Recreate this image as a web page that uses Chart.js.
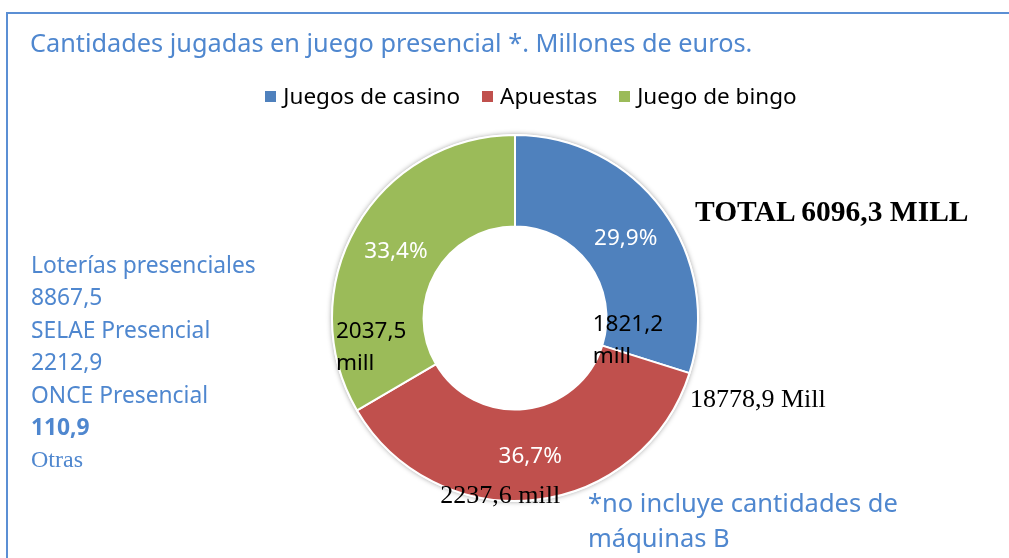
<!DOCTYPE html>
<html>
<head>
<meta charset="utf-8">
<script src="https://cdn.jsdelivr.net/npm/chart.js@4.4.1/dist/chart.umd.min.js"></script>
<style>
  html, body { margin:0; overflow:hidden; }
  body { width:1009px; height:558px; background:#fff; position:relative; font-family:'Noto Sans', sans-serif; }
  #frame { position:absolute; left:6px; top:12px; width:1003px; height:546px; border-top:2px solid #5b8fd4; border-left:2px solid #5b8fd4; box-sizing:border-box; }
  canvas { position:absolute; left:0; top:0; }
  .t { position:absolute; white-space:nowrap; }
  .blue { color:#4f87cf; }
  .serif { font-family:'Liberation Serif', 'DejaVu Serif', serif; color:#000; }
  #legend { position:absolute; top:80px; left:0; width:1062px; text-align:center; font-size:22.5px; color:#000; }
  #legend span.item { margin:0 11px; }
  #legend span.box { display:inline-block; width:11px; height:11px; margin-right:7px; vertical-align:2px; }
</style>
</head>
<body>
<div id="frame"></div>
<canvas id="donut" width="1009" height="558"></canvas>
<div class="t blue" style="left:30px;top:25px;font-size:25.3px;">Cantidades jugadas en juego presencial *. Millones de euros.</div>
<div id="legend"></div>
<div id="side" class="t blue" style="left:31px;top:249px;font-size:22.8px;line-height:32.4px;"></div>
<div class="t serif" style="left:695px;top:195px;font-size:29.5px;font-weight:bold;">TOTAL 6096,3 MILL</div>
<div class="t serif" style="left:690px;top:384px;font-size:26px;">18778,9 Mill</div>
<div class="t blue" style="left:588px;top:485px;font-size:25.5px;line-height:35px;">*no incluye cantidades de<br>máquinas B</div>

<script>
// ── data ────────────────────────────────────────────────
const categories    = ['Juegos de casino', 'Apuestas', 'Juego de bingo'];
const amounts       = [1821.2, 2237.6, 2037.5];
const percentLabels = ['29,9%', '36,7%', '33,4%'];
const amountLabels  = [['1821,2', 'mill'], ['2237,6 mill'], ['2037,5', 'mill']];
const colors        = ['#4F81BD', '#C0504D', '#9BBB59'];
const sideNotes     = ['Loterías presenciales', '8867,5', 'SELAE Presencial', '2212,9', 'ONCE Presencial', '110,9', 'Otras'];

// ── legend ──────────────────────────────────────────────
var legend = document.getElementById('legend');
categories.forEach(function(c, i) {
  legend.innerHTML += '<span class="item"><span class="box" style="background:' + colors[i] + '"></span>' + c + '</span>';
});

// ── left notes ──────────────────────────────────────────
var side = document.getElementById('side');
sideNotes.forEach(function(s, i) {
  var st = '';
  if (i === 5) st = 'font-weight:bold;';
  if (i === 6) st = "font-family:'Liberation Serif',serif;font-size:24px;";
  side.innerHTML += '<div style="' + st + '">' + s + '</div>';
});

// ── label placement relative to each arc centroid (dx, dy) ─
var amountOffsets = [[-33, 88], [-90, 42], [-60, 82]];
// casino & bingo amounts are sans, apuestas amount is serif
var amountFonts   = ['22.5px "Noto Sans", sans-serif', '26px "Liberation Serif", serif', '22.5px "Noto Sans", sans-serif'];

var labelPlugin = {
  id: 'arcLabels',
  afterDatasetsDraw: function(chart) {
    var ctx = chart.ctx;
    var arcs = chart.getDatasetMeta(0).data;
    ctx.save();
    arcs.forEach(function(arc, i) {
      var p = arc.tooltipPosition();
      ctx.font = '22.5px "Noto Sans", sans-serif';
      ctx.fillStyle = '#fff';
      ctx.textAlign = 'center';
      ctx.textBaseline = 'middle';
      ctx.fillText(percentLabels[i], p.x, p.y + 2);

      ctx.font = amountFonts[i];
      ctx.fillStyle = '#000';
      ctx.textAlign = 'left';
      var off = amountOffsets[i];
      amountLabels[i].forEach(function(line, k) {
        ctx.fillText(line, p.x + off[0], p.y + off[1] + k * 32);
      });
    });
    ctx.restore();
  }
};

var shadowPlugin = {
  id: 'ringShadow',
  beforeDatasetsDraw: function(chart) {
    var arc = chart.getDatasetMeta(0).data[0];
    var ctx = chart.ctx;
    ctx.save();
    ctx.beginPath();
    ctx.arc(arc.x, arc.y, arc.outerRadius + 1, 0, Math.PI * 2);
    ctx.shadowColor = 'rgba(0,0,0,0.35)';
    ctx.shadowBlur = 5;
    ctx.fillStyle = '#fff';
    ctx.fill();
    ctx.restore();
  }
};

new Chart(document.getElementById('donut').getContext('2d'), {
  type: 'doughnut',
  plugins: [shadowPlugin, labelPlugin],
  data: {
    labels: categories,
    datasets: [{
      data: amounts,
      backgroundColor: colors,
      borderColor: '#ffffff',
      borderWidth: 2
    }]
  },
  options: {
    responsive: false,
    animation: false,
    cutout: '50%',
    layout: { padding: { left: 331, right: 310, top: 134, bottom: 56 } },
    plugins: {
      legend: { display: false },
      tooltip: { enabled: false }
    }
  }
});
</script>
</body>
</html>
